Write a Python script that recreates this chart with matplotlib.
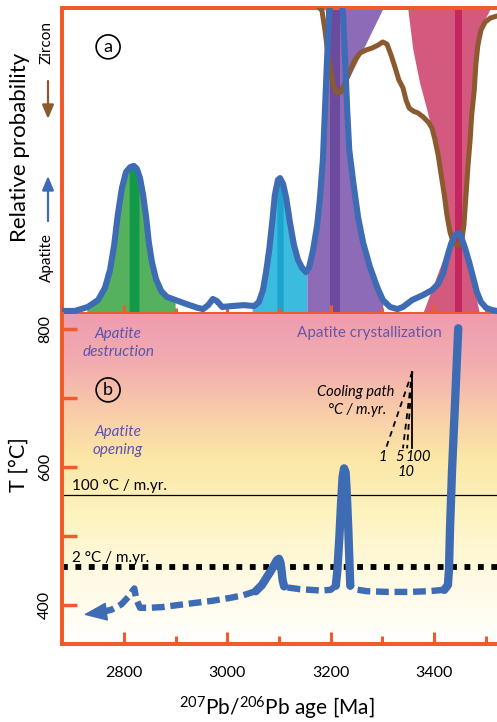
import numpy as np
import matplotlib
matplotlib.use("Agg")
import matplotlib.pyplot as plt
from matplotlib.colors import LinearSegmentedColormap
from matplotlib.patches import Polygon

plt.rcParams['font.family'] = ['Lato', 'DejaVu Sans']
plt.rcParams['mathtext.fontset'] = 'custom'
plt.rcParams['mathtext.rm'] = 'Lato'
plt.rcParams['mathtext.it'] = 'Lato:italic'
plt.rcParams['mathtext.bf'] = 'Lato:bold'

# ---------------- data ----------------
# apatite relative probability (upward from the bottom of panel a)
apatite_age = [2680, 2705, 2730, 2750, 2763, 2773, 2781, 2788, 2796, 2804, 2812, 2819,
               2825, 2831, 2837, 2843, 2848, 2854, 2862, 2872, 2883, 2899, 2920, 2943,
               2953, 2963, 2972, 2980, 2990, 3009, 3032, 3052, 3061, 3069, 3075, 3081,
               3087, 3092, 3098, 3102, 3108, 3114, 3121, 3129, 3137, 3145, 3152, 3158,
               3166, 3174, 3179, 3185, 3189, 3193, 3197, 3203, 3210, 3218, 3224, 3228,
               3232, 3236, 3244, 3253, 3263, 3276, 3290, 3301, 3315, 3329, 3340, 3358,
               3379, 3396, 3408, 3418, 3425, 3433, 3441, 3447, 3452, 3460, 3468, 3476,
               3483, 3491, 3501, 3512, 3522]
apatite_prob = [0.010, 0.010, 0.023, 0.046, 0.085, 0.144, 0.225, 0.324, 0.412, 0.464, 0.480, 0.484,
                0.474, 0.444, 0.389, 0.314, 0.235, 0.170, 0.114, 0.075, 0.056, 0.046, 0.033, 0.020,
                0.016, 0.029, 0.049, 0.042, 0.023, 0.026, 0.029, 0.026, 0.039, 0.078, 0.137, 0.209,
                0.301, 0.389, 0.438, 0.444, 0.425, 0.379, 0.301, 0.225, 0.176, 0.150, 0.137, 0.150,
                0.209, 0.291, 0.373, 0.503, 0.667, 0.830, 0.977, 1.075, 1.108, 1.075, 0.977, 0.830,
                0.667, 0.536, 0.428, 0.317, 0.232, 0.154, 0.088, 0.046, 0.023, 0.016, 0.023, 0.046,
                0.062, 0.078, 0.098, 0.134, 0.183, 0.229, 0.258, 0.265, 0.255, 0.216, 0.170, 0.118,
                0.072, 0.039, 0.020, 0.013, 0.010]

# zircon relative probability (hanging down from the top of panel a)
zircon_age = [3178, 3183, 3189, 3195, 3203, 3210, 3220, 3228, 3238, 3247, 3257, 3269,
              3280, 3292, 3301, 3309, 3317, 3325, 3332, 3340, 3346, 3352, 3360, 3369,
              3379, 3389, 3396, 3402, 3408, 3414, 3420, 3425, 3431, 3437, 3447, 3454,
              3458, 3462, 3466, 3470, 3473, 3478, 3481, 3485, 3491, 3499, 3509, 3522]
zircon_prob = [0.000, 0.007, 0.072, 0.154, 0.235, 0.275, 0.275, 0.242, 0.203, 0.170, 0.147, 0.137,
               0.131, 0.121, 0.111, 0.118, 0.154, 0.196, 0.235, 0.261, 0.301, 0.327, 0.337, 0.343,
               0.356, 0.373, 0.392, 0.431, 0.480, 0.546, 0.611, 0.676, 0.732, 0.765, 0.778, 0.758,
               0.709, 0.611, 0.513, 0.431, 0.350, 0.268, 0.186, 0.121, 0.072, 0.046, 0.033, 0.026]

# age populations: shaded windows and mean-age bands [Ma]
green_window = (2728, 2899)
green_band = (2810, 2829)
cyan_window = (3048, 3154)
cyan_band = (3096, 3108)
purple_window = (3154, 3301)
purple_band = (3199, 3218)
purple_wedge_age = [3190, 3303, 3228, 3205]
purple_wedge_level = [1.0, 1.0, 0.74, 0.74]
magenta_band = (3440, 3454)
magenta_left_age = [3350, 3360, 3373, 3387, 3398, 3406, 3414, 3422, 3429, 3435, 3379]
magenta_left_level = [1.0, 0.863, 0.755, 0.667, 0.592, 0.503, 0.431, 0.366, 0.301, 0.252, 0.0]
magenta_right_age = [3512, 3509, 3497, 3487, 3481, 3476, 3470, 3466, 3462, 3458, 3489]
magenta_right_level = [1.0, 0.993, 0.954, 0.895, 0.797, 0.667, 0.569, 0.471, 0.373, 0.252, 0.0]

# temperature-time path, oldest first
tt_age = [3447, 3441, 3435, 3431, 3429, 3427, 3420, 3390, 3350, 3310, 3270, 3245,
          3238, 3236, 3234, 3231, 3229, 3226, 3223, 3220, 3217, 3213, 3210, 3200,
          3180, 3160, 3140, 3120, 3110, 3107, 3105, 3103, 3100, 3096, 3090, 3084,
          3077, 3067, 3055, 3030, 3003, 2970, 2937, 2905, 2874, 2850, 2831, 2824,
          2820, 2810, 2795, 2775, 2752]
tt_temp = [801, 697, 596, 509, 451, 429, 422, 420, 419, 419, 420, 423,
           428, 470, 513, 565, 592, 598, 585, 545, 500, 450, 428, 422,
           421, 422, 423, 425, 427, 436, 450, 461, 467, 465, 457, 449,
           441, 429, 420, 414, 410, 406, 403, 400, 397, 396, 396, 408,
           424, 413, 401, 393, 389]
tt_solid_spans = [(3420, 3447), (3210, 3238), (3055, 3110)]
tt_end = (2722, 386)

# reference cooling rates
rate_100_T = 560
rate_2_T = 455
cooling_rates = ["1", "5", "10", "100"]
cooling_top = (3358, 738)
cooling_end_age = [3307, 3340, 3348, 3358]
cooling_end_T = 627

# ---------------- styling ----------------
W, H = 497, 722
ORANGE = "#EF5B2A"
BLUE = "#3D6BB4"
BROWN = "#8B5A2E"
LABEL_PURPLE = "#5A55AE"
XLIM = (2680, 3522)

fig = plt.figure(figsize=(W / 100, H / 100), dpi=100)


def px_rect(l, t, r, b):
    return [l / W, 1 - b / H, (r - l) / W, (b - t) / H]


ax_a = fig.add_axes(px_rect(62, 8, 497, 314))
ax_b = fig.add_axes(px_rect(62, 314, 497, 644))

# ---------- panel a ----------
ax_a.set_xlim(*XLIM)
ax_a.set_ylim(0, 1)


def under_curve(lo, hi):
    xs = np.concatenate([[lo], [a for a in apatite_age if lo < a < hi], [hi]])
    return xs, np.interp(xs, apatite_age, apatite_prob)


for (lo, hi), col, band, bcol in [
        (green_window, "#55B15E", green_band, "#13994A"),
        (cyan_window, "#3BBCDF", cyan_band, "#1CA4CF"),
        (purple_window, "#8E6BB6", None, None)]:
    xs, ys = under_curve(lo, hi)
    ax_a.fill_between(xs, 0, ys, color=col, lw=0, zorder=1)
    if band is not None:
        bx, by = under_curve(*band)
        ax_a.fill_between(bx, 0, by, color=bcol, lw=0, zorder=1.1)

ax_a.add_patch(Polygon(list(zip(purple_wedge_age, purple_wedge_level)),
                       closed=True, fc="#8E6BB6", ec="none", zorder=1))
ax_a.axvspan(*purple_band, color="#6C4A9D", lw=0, zorder=1.1)

mag_x = magenta_left_age + magenta_right_age[::-1]
mag_y = magenta_left_level + magenta_right_level[::-1]
ax_a.add_patch(Polygon(list(zip(mag_x, mag_y)), closed=True,
                       fc="#D4597E", ec="none", zorder=1))
ax_a.axvspan(*magenta_band, color="#C4275F", lw=0, zorder=1.1)

ax_a.plot(zircon_age, 1 - np.array(zircon_prob), color=BROWN, lw=3.6,
          solid_joinstyle="round", solid_capstyle="round", zorder=3)
ax_a.plot(apatite_age, apatite_prob, color=BLUE, lw=4.4,
          solid_joinstyle="round", solid_capstyle="round", zorder=4)

ax_a.text(0.106, 0.873, "a", transform=ax_a.transAxes, ha="center", va="center",
          fontsize=13, bbox=dict(boxstyle="circle,pad=0.22", fc="white", ec="black", lw=1.2))

# ---------- panel b ----------
ax_b.set_xlim(*XLIM)
ax_b.set_ylim(343.5, 821.7)

grad_cmap = LinearSegmentedColormap.from_list("heat", [
    (0.00, "#EE9CB1"), (0.15, "#F2ADAF"), (0.29, "#F8CBA9"), (0.43, "#FBE6A6"),
    (0.60, "#FDF3BF"), (0.80, "#FFFAE2"), (1.00, "#FFFFFF")])
grad = np.linspace(0, 1, 300).reshape(-1, 1)
ax_b.imshow(grad, cmap=grad_cmap, aspect="auto", origin="upper",
            extent=[XLIM[0], XLIM[1], 343.5, 821.7], zorder=0)

ax_b.axhline(rate_100_T, color="black", lw=0.9, zorder=2)
ax_b.axhline(rate_2_T, color="black", lw=4.2, linestyle=(0, (1.0, 1.3)), zorder=2)


def in_solid(a0, a1):
    return any(lo <= min(a0, a1) and max(a0, a1) <= hi for lo, hi in tt_solid_spans)


# split the T-t path into solid and dashed stretches
runs = []
for i in range(len(tt_age) - 1):
    s = in_solid(tt_age[i], tt_age[i + 1])
    if runs and runs[-1][0] == s:
        runs[-1][1].append(i + 1)
    else:
        runs.append([s, [i, i + 1]])
for s, idx in runs:
    xs = [tt_age[k] for k in idx]
    ys = [tt_temp[k] for k in idx]
    if s:
        ax_b.plot(xs, ys, color=BLUE, lw=6.0, solid_capstyle="round",
                  solid_joinstyle="round", zorder=4)
    else:
        ax_b.plot(xs, ys, color=BLUE, lw=4.6, linestyle=(0, (2.0, 0.9)),
                  dash_capstyle="butt", zorder=4)
ax_b.annotate("", xy=tt_end, xytext=(tt_age[-1], tt_temp[-1]),
              arrowprops=dict(arrowstyle="-|>,head_length=0.75,head_width=0.3",
                              color=BLUE, lw=1.0, mutation_scale=20,
                              shrinkA=0, shrinkB=0), zorder=4)

# cooling-rate guide
for lab, a_end in zip(cooling_rates, cooling_end_age):
    ls = "-" if lab == "100" else (0, (3.2, 2.6))
    ax_b.plot([cooling_top[0], a_end], [cooling_top[1], cooling_end_T],
              color="black", lw=1.3, linestyle=ls, zorder=3)
label_shift = {"1": (-7, 12), "5": (-6, 12), "10": (-2, 34), "100": (11, 12)}
for lab, a_end in zip(cooling_rates, cooling_end_age):
    dx, dy = label_shift[lab]
    ax_b.text(a_end + dx, cooling_end_T - dy, lab, ha="center", va="center",
              fontsize=10.5, style="italic", color="black", zorder=3)

ax_b.text(0.674, 0.764, "Cooling path", transform=ax_b.transAxes, ha="center",
          va="center", fontsize=10.5, style="italic")
ax_b.text(0.678, 0.709, "°C / m.yr.", transform=ax_b.transAxes, ha="center",
          va="center", fontsize=10.5, style="italic")

ax_b.text(0.129, 0.912, "Apatite\ndestruction", transform=ax_b.transAxes, ha="center",
          va="center", fontsize=11, style="italic", color=LABEL_PURPLE, linespacing=1.3)
ax_b.text(0.129, 0.615, "Apatite\nopening", transform=ax_b.transAxes, ha="center",
          va="center", fontsize=11, style="italic", color=LABEL_PURPLE, linespacing=1.3)
ax_b.text(0.706, 0.942, "Apatite crystallization", transform=ax_b.transAxes,
          ha="center", va="center", fontsize=11, color="#6757A8")
ax_b.text(0.023, 0.479, "100 °C / m.yr.", transform=ax_b.transAxes, ha="left",
          va="center", fontsize=11)
ax_b.text(0.023, 0.262, "2 °C / m.yr.", transform=ax_b.transAxes, ha="left",
          va="center", fontsize=11)
ax_b.text(0.106, 0.770, "b", transform=ax_b.transAxes, ha="center", va="center",
          fontsize=13, bbox=dict(boxstyle="circle,pad=0.22", fc="none", ec="black", lw=1.2))

# ---------- axes frames and ticks ----------
major_ages = [2800, 3000, 3200, 3400]
minor_ages = [2900, 3100, 3300, 3500]
for ax in (ax_a, ax_b):
    ax.spines["right"].set_visible(False)
    for sp in ("left", "top", "bottom"):
        ax.spines[sp].set_color(ORANGE)
        ax.spines[sp].set_linewidth(2.9)
    ax.set_xticks(major_ages)
    ax.set_xticks(minor_ages, minor=True)
ax_b.spines["top"].set_visible(False)

ax_a.set_yticks([])
ax_a.tick_params(axis="x", which="both", direction="in", color=ORANGE,
                 width=2.2, labelbottom=False)
ax_a.tick_params(axis="x", which="major", length=6.5)
ax_a.tick_params(axis="x", which="minor", length=4.0)

ax_b.set_yticks([400, 600, 800])
ax_b.set_yticks([500, 700], minor=True)
ax_b.tick_params(axis="x", which="both", direction="in", color=ORANGE, width=2.2,
                 labelsize=11.5, pad=16)
ax_b.tick_params(axis="x", which="major", length=8.6)
ax_b.tick_params(axis="x", which="minor", length=5.8)
ax_b.tick_params(axis="y", which="both", direction="in", color=ORANGE, width=2.5,
                 length=10.8, labelsize=11.5, labelrotation=90, pad=7)
for t in ax_b.get_yticklabels():
    t.set_va("center")

# ---------- outer labels ----------
fig.text(20 / W, 1 - 147 / H, "Relative probability", rotation=90, ha="center",
         va="center", fontsize=16)
fig.text(47 / W, 1 - 43 / H, "Zircon", rotation=90, ha="center", va="center",
         fontsize=11)
fig.text(47 / W, 1 - 258 / H, "Apatite", rotation=90, ha="center", va="center",
         fontsize=11)
fig.text(19 / W, 1 - 465 / H, "T [°C]", rotation=90, ha="center", va="center",
         fontsize=15.5)
fig.text(277 / W, 1 - 708 / H, r"$\mathregular{^{207}}$Pb/$\mathregular{^{206}}$Pb age [Ma]",
         ha="center", va="center", fontsize=15)

ax_a.annotate("", xy=(48 / W, 1 - 119 / H), xytext=(48 / W, 1 - 81 / H),
              xycoords="figure fraction", textcoords="figure fraction",
              arrowprops=dict(arrowstyle="-|>,head_length=0.6,head_width=0.25",
                              color=BROWN, lw=1.6, mutation_scale=14,
                              shrinkA=0, shrinkB=0), annotation_clip=False)
ax_a.annotate("", xy=(48 / W, 1 - 176 / H), xytext=(48 / W, 1 - 221 / H),
              xycoords="figure fraction", textcoords="figure fraction",
              arrowprops=dict(arrowstyle="-|>,head_length=0.6,head_width=0.25",
                              color=BLUE, lw=1.6, mutation_scale=14,
                              shrinkA=0, shrinkB=0), annotation_clip=False)

fig.savefig("out.png", dpi=100)
